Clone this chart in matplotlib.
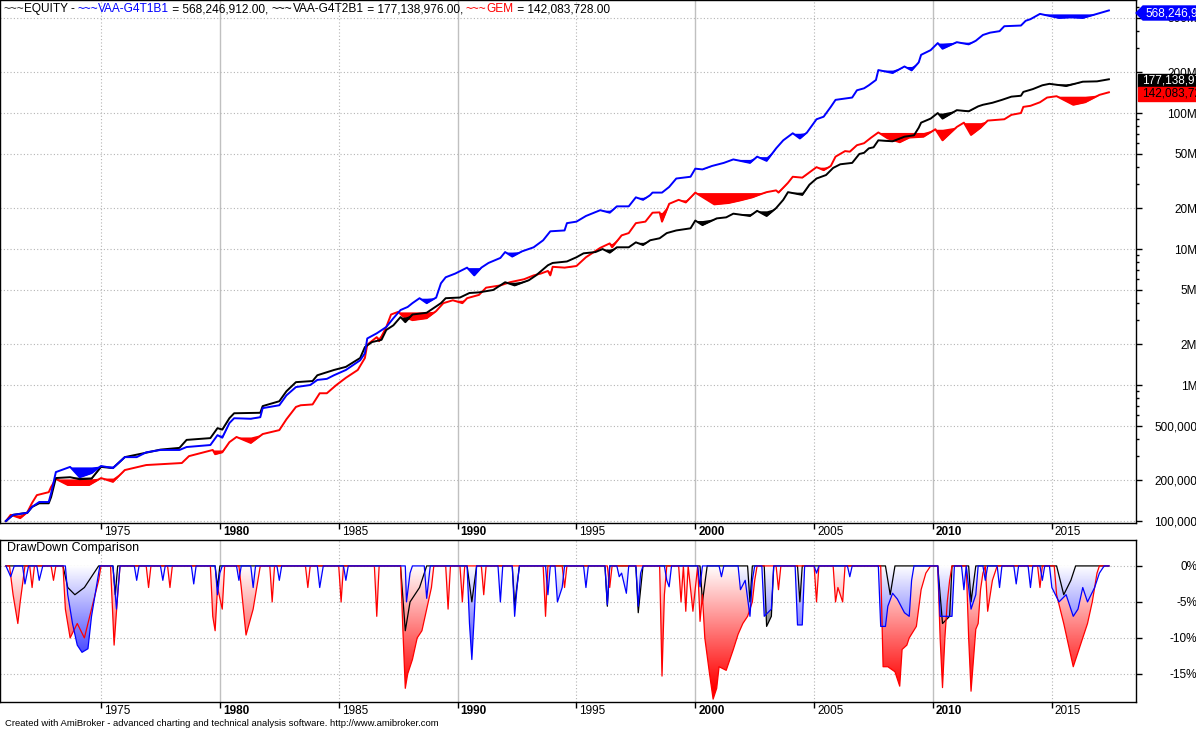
import numpy as np
import matplotlib
matplotlib.use("Agg")
import matplotlib.pyplot as plt
from matplotlib.colors import LinearSegmentedColormap
from matplotlib.patches import PathPatch, Polygon, Rectangle
from matplotlib.transforms import offset_copy
from matplotlib.font_manager import FontProperties

plt.rcParams['font.family'] = ['Liberation Sans', 'DejaVu Sans']

# equity curves (year, value)
t1_t = [1971.0, 1971.3, 1971.9, 1972.1, 1972.4, 1972.8, 1972.9, 1973.1, 1973.7, 1974.1,
        1974.6, 1975.0, 1975.5, 1976.0, 1976.5, 1976.9, 1977.5, 1978.3, 1978.6, 1979.6,
        1979.9, 1980.1, 1980.4, 1980.6, 1981.3, 1981.7, 1981.8, 1982.5, 1982.8, 1983.2,
        1983.8, 1984.1, 1984.5, 1984.8, 1985.3, 1985.9, 1986.1, 1986.2, 1986.6, 1987.0,
        1987.3, 1987.6, 1987.9, 1988.1, 1988.4, 1988.7, 1989.1, 1989.3, 1989.5, 1989.9,
        1990.4, 1990.7, 1991.0, 1991.3, 1991.8, 1992.0, 1992.3, 1992.7, 1993.2, 1993.6,
        1993.9, 1994.5, 1994.6, 1995.0, 1995.4, 1996.0, 1996.4, 1996.7, 1997.2, 1997.5,
        1997.8, 1998.1, 1998.2, 1998.6, 1998.9, 1999.2, 1999.8, 2000.0, 2000.3, 2000.7,
        2001.2, 2001.6, 2002.3, 2002.6, 2003.0, 2003.4, 2003.7, 2004.1, 2004.4, 2004.7,
        2005.1, 2005.4, 2005.7, 2005.9, 2006.6, 2006.8, 2007.1, 2007.3, 2007.6, 2007.7,
        2008.3, 2008.8, 2009.1, 2009.4, 2009.5, 2009.9, 2010.2, 2010.4, 2011.0, 2011.5,
        2011.8, 2012.1, 2012.4, 2012.8, 2013.0, 2013.7, 2013.9, 2014.1, 2014.5, 2015.3,
        2015.8, 2016.3, 2016.9, 2017.4]
t1_eq = [100e3, 111e3, 115e3, 127e3, 138e3, 138e3, 160e3, 229e3, 250e3, 210e3,
         225e3, 254e3, 245e3, 295e3, 295e3, 320e3, 333e3, 333e3, 350e3, 362e3,
         428e3, 410e3, 525e3, 570e3, 565e3, 580e3, 676e3, 710e3, 840e3, 966e3,
         1.00e6, 1.09e6, 1.11e6, 1.18e6, 1.29e6, 1.52e6, 1.71e6, 2.2e6, 2.4e6, 2.67e6,
         3.1e6, 3.56e6, 3.75e6, 4.0e6, 4.35e6, 4.0e6, 4.4e6, 5.6e6, 6.2e6, 6.6e6,
         7.3e6, 6.4e6, 7.3e6, 7.9e6, 8.6e6, 9.5e6, 8.8e6, 9.6e6, 10.3e6, 11.6e6,
         13.5e6, 13.7e6, 15.5e6, 15.9e6, 17.5e6, 19.3e6, 18.5e6, 20.6e6, 20.6e6, 24.0e6,
         23.0e6, 24.9e6, 26.0e6, 26.0e6, 28.6e6, 33.0e6, 34.0e6, 39.0e6, 38.5e6, 40.8e6,
         43.0e6, 45.6e6, 43.0e6, 47.8e6, 44.5e6, 55e6, 63e6, 71e6, 65e6, 72e6,
         90e6, 94e6, 111e6, 125e6, 130e6, 147e6, 152e6, 160e6, 175e6, 207e6,
         197e6, 220e6, 206e6, 236e6, 268e6, 290e6, 327e6, 297e6, 332e6, 320e6,
         340e6, 375e6, 390e6, 400e6, 435e6, 440e6, 477e6, 490e6, 536e6, 500e6,
         505e6, 500e6, 536e6, 568246912]

t2_t = [1971.0, 1971.3, 1971.9, 1972.1, 1972.4, 1972.8, 1972.9, 1973.1, 1973.7, 1974.1,
        1974.6, 1975.0, 1975.5, 1976.0, 1976.9, 1977.5, 1978.3, 1978.6, 1979.6, 1979.9,
        1980.1, 1980.4, 1980.6, 1981.7, 1981.8, 1982.5, 1982.8, 1983.2, 1983.9, 1984.1,
        1984.8, 1985.3, 1985.9, 1986.1, 1986.4, 1986.8, 1987.0, 1987.3, 1987.6, 1987.8,
        1988.1, 1988.7, 1989.3, 1989.5, 1990.1, 1990.5, 1990.9, 1991.5, 1992.0, 1992.4,
        1993.0, 1993.3, 1993.8, 1994.0, 1994.6, 1995.0, 1995.3, 1995.8, 1996.1, 1996.4,
        1996.7, 1997.2, 1997.5, 1997.8, 1998.1, 1998.5, 1998.8, 1999.2, 1999.8, 2000.0,
        2000.3, 2000.9, 2001.3, 2001.6, 2002.3, 2002.6, 2003.0, 2003.4, 2003.7, 2003.9,
        2004.5, 2004.8, 2005.1, 2005.5, 2005.8, 2006.1, 2006.6, 2006.9, 2007.1, 2007.3,
        2007.5, 2007.7, 2008.3, 2008.8, 2009.2, 2009.4, 2009.5, 2009.9, 2010.2, 2010.4,
        2011.0, 2011.5, 2011.9, 2012.1, 2012.5, 2012.9, 2013.3, 2013.7, 2013.8, 2014.2,
        2014.6, 2014.9, 2015.6, 2016.3, 2016.9, 2017.4]
t2_eq = [100e3, 111e3, 115e3, 127e3, 135e3, 135e3, 150e3, 207e3, 210e3, 203e3,
         205e3, 250e3, 245e3, 295e3, 318e3, 335e3, 345e3, 395e3, 407e3, 482e3,
         470e3, 570e3, 620e3, 625e3, 700e3, 760e3, 900e3, 1.05e6, 1.07e6, 1.18e6,
         1.29e6, 1.36e6, 1.58e6, 1.9e6, 2.07e6, 2.15e6, 2.54e6, 2.75e6, 3.16e6, 2.9e6,
         3.3e6, 3.4e6, 4.0e6, 4.35e6, 4.4e6, 4.75e6, 4.8e6, 5.0e6, 5.7e6, 5.4e6,
         5.9e6, 6.4e6, 7.6e6, 7.9e6, 8.1e6, 8.7e6, 9.3e6, 9.5e6, 10.0e6, 9.4e6,
         10.3e6, 10.3e6, 11.2e6, 10.7e6, 11.6e6, 12.0e6, 13.1e6, 13.7e6, 14.2e6, 16.2e6,
         15.0e6, 16.8e6, 17.1e6, 18.2e6, 17.5e6, 19.1e6, 17.5e6, 20.0e6, 23.0e6, 26.2e6,
         25.0e6, 29.7e6, 33.0e6, 35.0e6, 39.5e6, 42.0e6, 43.0e6, 50.0e6, 51.0e6, 55.0e6,
         56.0e6, 63.0e6, 62.0e6, 67.0e6, 68.6e6, 78.0e6, 85.0e6, 91.0e6, 100e6, 91e6,
         105e6, 103e6, 112e6, 115e6, 119e6, 125e6, 132e6, 134e6, 143e6, 150e6,
         160e6, 164e6, 158e6, 170e6, 171e6, 177138976]

gem_t = [1971.0, 1971.2, 1971.6, 1971.9, 1972.1, 1972.3, 1972.8, 1972.9, 1973.1, 1973.6,
         1974.5, 1975.0, 1975.5, 1976.0, 1976.9, 1978.4, 1978.7, 1979.7, 1979.8, 1980.1,
         1980.4, 1980.7, 1981.3, 1981.8, 1982.5, 1982.8, 1983.2, 1983.4, 1983.9, 1984.2,
         1984.5, 1984.9, 1985.3, 1985.8, 1986.1, 1986.2, 1986.6, 1986.7, 1987.0, 1987.2,
         1987.5, 1987.7, 1988.1, 1988.7, 1989.1, 1989.4, 1989.8, 1990.2, 1990.4, 1990.9,
         1991.2, 1991.8, 1992.2, 1992.8, 1993.2, 1993.5, 1993.8, 1993.9, 1994.0, 1994.5,
         1995.0, 1995.4, 1996.0, 1996.4, 1996.5, 1996.9, 1997.2, 1997.5, 1997.9, 1998.2,
         1998.5, 1998.6, 1998.9, 1999.3, 1999.6, 2000.0, 2000.8, 2001.4, 2001.9, 2002.4,
         2002.8, 2003.0, 2003.4, 2003.5, 2003.9, 2004.1, 2004.5, 2004.8, 2005.1, 2005.4,
         2005.7, 2005.9, 2006.3, 2006.5, 2006.8, 2007.1, 2007.4, 2007.7, 2008.1, 2008.6,
         2009.0, 2009.6, 2010.1, 2010.4, 2011.0, 2011.3, 2011.6, 2012.0, 2012.3, 2013.0,
         2013.3, 2013.7, 2013.8, 2014.1, 2014.5, 2014.8, 2015.2, 2015.9, 2016.4, 2017.0,
         2017.4]
gem_eq = [100e3, 111e3, 105e3, 116e3, 136e3, 155e3, 163e3, 178e3, 204e3, 184e3,
          184e3, 207e3, 194e3, 237e3, 258e3, 267e3, 300e3, 333e3, 310e3, 320e3,
          380e3, 415e3, 375e3, 436e3, 466e3, 560e3, 690e3, 710e3, 720e3, 870e3,
          870e3, 1.0e6, 1.13e6, 1.29e6, 1.58e6, 1.98e6, 2.25e6, 2.1e6, 2.67e6, 3.3e6,
          3.45e6, 3.2e6, 3.0e6, 3.1e6, 3.5e6, 4.0e6, 4.2e6, 4.0e6, 4.35e6, 4.6e6,
          5.2e6, 5.4e6, 5.7e6, 6.0e6, 6.4e6, 6.6e6, 6.9e6, 6.4e6, 7.4e6, 7.3e6,
          7.5e6, 8.7e6, 10.2e6, 11.0e6, 10.3e6, 12.6e6, 13.1e6, 15.5e6, 15.9e6, 18.5e6,
          18.6e6, 15.9e6, 21.5e6, 23.0e6, 22.0e6, 26.0e6, 21.3e6, 21.8e6, 22.8e6, 24.0e6,
          25.5e6, 26.2e6, 27.0e6, 26.0e6, 30.7e6, 34.0e6, 33.5e6, 36.6e6, 40.0e6, 38.0e6,
          40.8e6, 47.8e6, 52.5e6, 52.0e6, 58.0e6, 60.0e6, 66.0e6, 72.0e6, 65.0e6, 61.0e6,
          66.0e6, 67.0e6, 76.0e6, 63.0e6, 79.0e6, 85.0e6, 69.0e6, 78.0e6, 88.0e6, 90.0e6,
          97.0e6, 100e6, 111e6, 113e6, 120e6, 130e6, 133e6, 115e6, 120e6, 136e6,
          142083728]

# drawdown curves in % (year, dd)
t1_dd_t = [1971.0, 1971.2, 1971.35, 1971.7, 1971.8, 1971.95, 1972.3, 1972.4, 1972.55, 1973.5,
           1973.6, 1973.8, 1974.0, 1974.2, 1974.45, 1974.6, 1974.8, 1974.95, 1975.5, 1975.65,
           1975.8, 1976.4, 1976.5, 1976.6, 1977.5, 1977.6, 1977.7, 1978.8, 1978.9, 1979.0,
           1979.8, 1979.9, 1980.0, 1980.1, 1980.7, 1980.8, 1980.9, 1981.3, 1981.4, 1981.5,
           1982.4, 1982.5, 1982.6, 1984.1, 1984.2, 1984.35, 1985.2, 1985.3, 1985.4, 1987.8,
           1987.85, 1988.0, 1988.1, 1988.6, 1988.7, 1988.85, 1990.4, 1990.5, 1990.6, 1990.7,
           1990.8, 1991.7, 1991.8, 1991.9, 1992.3, 1992.4, 1992.5, 1992.6, 1993.7, 1993.8,
           1993.9, 1994.1, 1994.2, 1994.4, 1994.5, 1995.3, 1995.4, 1995.5, 1996.2, 1996.3,
           1996.4, 1996.7, 1996.8, 1996.9, 1997.1, 1997.2, 1997.5, 1997.6, 1997.7, 1997.8,
           1998.7, 1998.8, 1998.9, 1999.0, 2000.1, 2000.2, 2000.3, 2001.0, 2001.1, 2001.2,
           2001.8, 2001.9, 2002.1, 2002.3, 2002.4, 2002.5, 2002.8, 2002.9, 2003.2, 2003.3,
           2004.2, 2004.3, 2004.5, 2004.6, 2005.0, 2005.1, 2005.2, 2006.4, 2006.5, 2006.6,
           2007.7, 2007.8, 2008.0, 2008.1, 2008.3, 2008.5, 2008.8, 2009.0, 2009.1, 2009.2,
           2010.2, 2010.3, 2010.8, 2010.9, 2011.2, 2011.3, 2011.4, 2011.5, 2011.6, 2011.8,
           2011.9, 2012.1, 2012.2, 2012.3, 2012.7, 2012.8, 2012.9, 2013.4, 2013.5, 2013.6,
           2014.0, 2014.1, 2014.2, 2014.5, 2014.6, 2014.7, 2014.9, 2015.0, 2015.3, 2015.6,
           2015.9, 2016.1, 2016.3, 2016.5, 2016.8, 2017.0, 2017.2, 2017.4]
t1_dd = [0, -1.5, 0, 0, -2.5, 0, 0, -2.0, 0, 0,
         -4, -8, -11, -12, -11.5, -7, -3, 0, 0, -6,
         0, 0, -2, 0, 0, -2, 0, 0, -2.5, 0,
         0, -4, -1, 0, 0, -2, 0, 0, -3, 0,
         0, -2, 0, 0, -3, 0, 0, -2, 0, 0,
         -5, -1, 0, 0, -4.5, 0, 0, -8, -13, -7,
         0, 0, -5, 0, 0, -7, -3, 0, 0, -4,
         0, 0, -5, -3, 0, 0, -3, 0, 0, -5.4,
         0, 0, -1.5, -1, -3.8, 0, 0, -5.6, -1, 0,
         0, -2, -2.9, 0, 0, -2.9, 0, 0, -1.5, 0,
         0, -3.3, -2, -7, -2, 0, 0, -7, -6, 0,
         0, -8.2, -8.2, 0, 0, -1, 0, 0, -1.5, 0,
         0, -8.4, -8.4, -5.6, -3.8, -4.6, -6.5, -7, -2, 0,
         0, -7, -7, 0, 0, -3.3, 0, -3, -6, -4,
         0, 0, -2, 0, 0, -3, 0, 0, -2.5, 0,
         0, -3, 0, 0, -2, 0, 0, -3, -5, -4,
         -7, -6, -3, -5, -3, -1, 0, 0]

gem_dd_t = [1971.0, 1971.15, 1971.3, 1971.5, 1971.6, 1971.8, 1972.0, 1972.1, 1972.2, 1972.9,
            1973.0, 1973.1, 1973.4, 1973.5, 1973.7, 1974.0, 1974.3, 1974.6, 1974.9, 1975.0,
            1975.4, 1975.55, 1975.7, 1975.8, 1976.9, 1977.0, 1977.1, 1977.8, 1977.9, 1978.0,
            1979.6, 1979.7, 1979.8, 1979.9, 1980.1, 1980.2, 1980.8, 1980.9, 1981.1, 1981.4,
            1981.6, 1981.7, 1982.1, 1982.2, 1982.3, 1983.6, 1983.7, 1983.8, 1985.0, 1985.1,
            1985.2, 1986.5, 1986.6, 1986.7, 1987.6, 1987.7, 1987.8, 1987.9, 1988.1, 1988.3,
            1988.5, 1988.7, 1988.9, 1989.0, 1989.5, 1989.6, 1989.7, 1990.1, 1990.2, 1990.3,
            1991.0, 1991.1, 1991.2, 1993.6, 1993.7, 1993.8, 1994.4, 1994.5, 1994.6, 1996.3,
            1996.4, 1996.5, 1998.5, 1998.6, 1998.7, 1998.8, 1999.3, 1999.4, 1999.5, 1999.6,
            1999.7, 1999.9, 2000.1, 2000.2, 2000.3, 2000.4, 2000.6, 2000.75, 2000.9, 2001.0,
            2001.3, 2001.6, 2001.8, 2002.0, 2002.2, 2002.4, 2002.5, 2002.6, 2003.4, 2003.5,
            2003.6, 2005.0, 2005.1, 2005.2, 2005.8, 2005.9, 2006.0, 2006.2, 2006.3, 2007.8,
            2007.9, 2008.1, 2008.4, 2008.6, 2008.7, 2008.9, 2009.0, 2009.3, 2009.5, 2009.7,
            2009.9, 2010.2, 2010.3, 2010.4, 2010.5, 2010.6, 2010.7, 2010.8, 2011.4, 2011.5,
            2011.6, 2011.8, 2011.9, 2012.0, 2012.1, 2012.2, 2012.3, 2012.5, 2012.7, 2014.4,
            2014.5, 2014.6, 2015.1, 2015.2, 2015.5, 2015.7, 2015.9, 2016.1, 2016.3, 2016.5,
            2016.7, 2016.9, 2017.0, 2017.4]
gem_dd = [0, 0, -4, -8, -5, 0, 0, -3, 0, 0,
          -2, 0, 0, -6, -10, -8, -10, -6, -2, 0,
          0, -11, -4, 0, 0, -3, 0, 0, -3, 0,
          0, -7, -9, -3, -6, 0, 0, -3, -9.6, -6,
          -2, 0, 0, -5, 0, 0, -3, 0, 0, -5,
          0, 0, -7, 0, 0, -9, -17, -15, -13, -10,
          -9, -6, -3, 0, 0, -6, 0, 0, -5, 0,
          0, -4, 0, 0, -7, 0, 0, -3, 0, 0,
          -3, 0, 0, -15.3, -4, 0, 0, -5, 0, -6.3,
          0, -6.3, 0, -7.7, -4, -10, -15, -18.5, -17, -14,
          -14.5, -11.6, -9.5, -8, -7, -5, -2, 0, 0, -3.3,
          0, 0, -5, 0, 0, -5, -3, -5, 0, 0,
          -14, -14, -14.7, -16.7, -11.6, -11, -10, -8.4, -3.3, -1,
          0, 0, -10, -16.9, -10, -5, -2, 0, 0, -10,
          -17.4, -8.8, -8, -3.3, -1, 0, -6.3, -2, 0, 0,
          -3, 0, 0, -4, -8, -11, -14, -12, -10, -8,
          -5, -1, 0, 0]

t2_dd_t = [1971.0, 1973.4, 1973.6, 1973.9, 1974.3, 1974.9, 1975.5, 1975.6, 1975.7, 1979.8,
           1979.9, 1980.0, 1987.6, 1987.8, 1988.0, 1988.4, 1988.7, 1990.4, 1990.6, 1990.8,
           1992.3, 1992.4, 1992.6, 1996.2, 1996.3, 1996.4, 1997.5, 1997.6, 1997.8, 2000.2,
           2000.3, 2000.5, 2002.2, 2002.3, 2002.4, 2002.9, 2003.0, 2003.2, 2003.3, 2004.3,
           2004.4, 2004.5, 2008.0, 2008.2, 2008.4, 2010.2, 2010.4, 2010.7, 2010.8, 2011.5,
           2011.6, 2011.8, 2015.2, 2015.5, 2015.8, 2016.0, 2017.4]
t2_dd = [0, 0, -3, -4, -3, 0, 0, -4, 0, 0,
         -3, 0, 0, -9, -5, -3, 0, 0, -5, 0,
         0, -5.5, 0, 0, -5.6, 0, 0, -6.5, 0, 0,
         -5, 0, 0, -5, 0, 0, -8.4, -7, 0, 0,
         -5, 0, 0, -4, 0, 0, -8, -7, 0, 0,
         -5, 0, 0, -4, -2, 0, 0]

price_ticks = [1e5, 2e5, 5e5, 1e6, 2e6, 5e6, 1e7, 2e7, 5e7, 1e8, 2e8, 5e8]
price_labels = ['100,000', '200,000', '500,000', '1M', '2M', '5M', '10M', '20M',
                '50M', '100M', '200M', '500M']
dd_ticks = [0, -5, -10, -15]
dd_labels = ['0%', '-5%', '-10%', '-15%']
years = [1975, 1980, 1985, 1990, 1995, 2000, 2005, 2010, 2015]

BLUE, RED, BLACK = '#0000ff', '#ff0000', '#000000'
W, H = 1196, 731
fig = plt.figure(figsize=(W / 100, H / 100), dpi=100)


def fx(px):
    return px / W


def fy(py):
    return 1 - py / H


ax1 = fig.add_axes([0, fy(523), fx(1136), 523 / H])
ax2 = fig.add_axes([0, fy(702), fx(1136), (702 - 540) / H])

# --- equity panel, filled down from the running peak
for t, eq, c in [(gem_t, gem_eq, RED), (t2_t, t2_eq, BLACK), (t1_t, t1_eq, BLUE)]:
    eq = np.array(eq, float)
    peak = np.maximum.accumulate(eq)
    ax1.fill_between(t, eq, peak, color=c, lw=0, zorder=3)
    ax1.plot(t, eq, color=c, lw=1.4, zorder=3)

ax1.set_yscale('log')
ax1.set_ylim(96.7e3, 6.78e8)


def grad_fill(ax, t, dd, color, z, alpha=1.0):
    poly = ax.fill_between(t, dd, 0, color='none', lw=0)
    patch = PathPatch(poly.get_paths()[0], transform=ax.transData, fc='none', ec='none')
    ax.add_patch(patch)
    cmap = LinearSegmentedColormap.from_list('g', ['white', color])
    yy = np.linspace(-19, 0, 200)
    grad = np.clip(-yy / 17.0, 0, 1).reshape(-1, 1)
    im = ax.imshow(grad, extent=[t[0], t[-1], -19, 0], origin='lower', aspect='auto',
                   cmap=cmap, vmin=0, vmax=1, zorder=z, alpha=alpha, interpolation='bilinear')
    im.set_clip_path(patch)


# --- drawdown panel
series = [(t2_dd_t, t2_dd, BLACK, 1), (gem_dd_t, gem_dd, RED, 2), (t1_dd_t, t1_dd, BLUE, 3)]
for t, dd, c, z in series:
    grad_fill(ax2, t, dd, c, z)
for t, dd, c, z in series:
    ax2.plot(t, dd, color=c, lw=0.9, zorder=4 + z)

ax2.set_ylim(-18.9, 3.6)

for ax in (ax1, ax2):
    ax.set_xlim(1970.75, 2018.54)
    ax.set_xticks(years)
    ax.tick_params(axis='x', direction='out', length=4, width=1, labelbottom=False)
    ax.yaxis.tick_right()
    ax.tick_params(axis='y', direction='out', length=4, width=1, pad=40, labelsize=8.5)
    for y in years:
        if y % 10 == 0:
            ax.axvline(y, color='#c0c0c0', lw=1, zorder=0)
        else:
            ax.axvline(y, color='#b4b4b4', lw=0.8, ls=(0, (1, 2)), zorder=0)
    for s in ax.spines.values():
        s.set_linewidth(1)
    trans = offset_copy(ax.get_xaxis_transform(), fig=fig, x=3, y=-9, units='dots')
    for y in years:
        ax.text(y, 0, str(y), transform=trans, ha='left', va='center', fontsize=8.5,
                fontweight='bold' if y % 10 == 0 else 'normal')

ax1.set_yticks(price_ticks, price_labels)
ax1.set_yticks([k * 10 ** e for e in range(5, 9) for k in (3, 4, 6, 7, 8, 9)
                if 96.7e3 < k * 10 ** e < 6.78e8], minor=True)
ax1.yaxis.set_minor_formatter(plt.NullFormatter())
ax1.tick_params(axis='y', which='minor', direction='out', length=2.5, width=1)
ax2.set_yticks(dd_ticks, dd_labels)
for ax in (ax1, ax2):
    for lab in ax.get_yticklabels():
        lab.set_horizontalalignment('right')
    ax.grid(axis='y', which='major', color='#b4b4b4', lw=0.8, ls=(0, (1, 2)), zorder=0)

# --- texts
renderer = fig.canvas.get_renderer()
prop = FontProperties(family=['Liberation Sans'], size=8.6)


def text_width(s):
    w1 = renderer.get_text_width_height_descent('|' + s + '|', prop, ismath=False)[0]
    w0 = renderer.get_text_width_height_descent('||', prop, ismath=False)[0]
    return w1 - w0


pieces = [('~~~', '#303030'), ('EQUITY - ', BLACK), ('~~~', BLUE), ('VAA-G4T1B1', BLUE),
          (' = 568,246,912.00, ', BLACK), ('~~~', BLACK), ('VAA-G4T2B1', BLACK),
          (' = 177,138,976.00, ', BLACK), ('~~~', RED), ('GEM', RED),
          (' = 142,083,728.00', BLACK)]
x = 3
for s, c in pieces:
    fig.text(fx(x), fy(9), s, color=c, fontproperties=prop, ha='left', va='center')
    x += text_width(s)

fig.text(fx(7), fy(548), 'DrawDown Comparison', fontsize=9, ha='left', va='center')
fig.text(fx(5), fy(724), 'Created with AmiBroker - advanced charting and technical analysis '
         'software. http://www.amibroker.com', fontsize=6.8, ha='left', va='center')

# value boxes on the price axis
arrow = [(1136, 13), (1143, 6), (1196, 6), (1196, 20), (1143, 20)]
fig.patches.append(Polygon([(fx(a), fy(b)) for a, b in arrow], closed=True,
                           transform=fig.transFigure, color=BLUE, figure=fig, zorder=5))
fig.text(fx(1145), fy(13), '568,246,912.00', color='white', fontsize=8.5, va='center',
         zorder=6)
for y0, y1, bg, fg, s in [(74, 87, BLACK, 'white', '177,138,976.00'),
                          (87, 101, RED, BLACK, '142,083,728.00')]:
    fig.patches.append(Rectangle((fx(1138), fy(y1)), fx(1196 - 1138), (y1 - y0) / H,
                                 transform=fig.transFigure, color=bg, figure=fig, zorder=5))
    fig.text(fx(1142), fy((y0 + y1) / 2), s, color=fg, fontsize=8.5, va='center', zorder=6)

fig.savefig('out.png', dpi=100)
